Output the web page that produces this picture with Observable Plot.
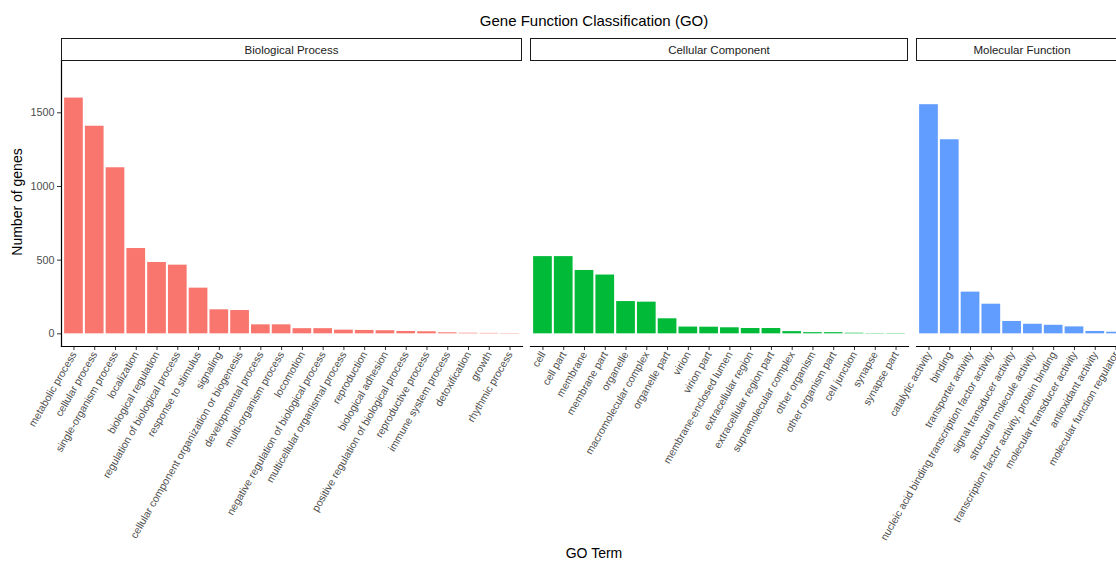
<!DOCTYPE html>
<html>
<head>
<meta charset="utf-8">
<script src="https://cdn.jsdelivr.net/npm/d3@7"></script>
<script src="https://cdn.jsdelivr.net/npm/@observablehq/plot@0.6"></script>
<style>
  html, body { margin: 0; padding: 0; background: #fff; }
  #fig { position: relative; width: 1116px; height: 562px; overflow: hidden; font-family: "Liberation Sans", Arial, sans-serif; }
  .abs { position: absolute; white-space: nowrap; }
  .strip { position: absolute; box-sizing: border-box; border: 1.3px solid #1a1a1a; height: 23px; top: 38px;
           display: flex; align-items: center; justify-content: center; font-size: 11.5px; color: #1a1a1a; background: #fff; }
  #fig svg { position: absolute; left: 0; top: 60px; background: transparent; overflow: visible; max-width: none; }
</style>
</head>
<body>
<div id="fig"></div>
<script>
// ---- data ----
const bpTerms = ["metabolic process","cellular process","single-organism process","localization","biological regulation",
  "regulation of biological process","response to stimulus","signaling","cellular component organization or biogenesis",
  "developmental process","multi-organism process","locomotion","negative regulation of biological process",
  "multicellular organismal process","reproduction","biological adhesion","positive regulation of biological process",
  "reproductive process","immune system process","detoxification","growth","rhythmic process"];
const bpCounts = [1600,1409,1127,579,484,466,310,163,158,61,61,35,35,25,23,21,16,14,7,4,3,2];

const ccTerms = ["cell","cell part","membrane","membrane part","organelle","macromolecular complex","organelle part",
  "virion","virion part","membrane-enclosed lumen","extracellular region","extracellular region part",
  "supramolecular complex","other organism","other organism part","cell junction","synapse","synapse part"];
const ccCounts = [524,524,430,399,219,215,102,46,45,41,36,36,15,8,8,4,2,2];

const mfTerms = ["catalytic activity","binding","transporter activity","nucleic acid binding transcription factor activity",
  "signal transducer activity","structural molecule activity","transcription factor activity, protein binding",
  "molecular transducer activity","antioxidant activity","molecular function regulator"];
const mfCounts = [1555,1317,283,201,84,65,58,47,16,11];

const facetNames = ["Biological Process","Cellular Component","Molecular Function"];
const facetColors = ["#F8766D","#00BA38","#619CFF"];
const yTicks = [0,500,1000,1500];
const yDomain = [-86, 1855];

// ---- layout ----
const font = '"Liberation Sans", Arial, sans-serif';
const panels = [
  {terms: bpTerms, counts: bpCounts, left: 61, right: 522, showY: true},
  {terms: ccTerms, counts: ccCounts, left: 530, right: 908, showY: false},
  {terms: mfTerms, counts: mfCounts, left: 916, right: 1128, showY: false}
];

const fig = document.getElementById("fig");

panels.forEach((p, k) => {
  const data = p.terms.map((t, i) => ({term: t, count: p.counts[i]}));
  const chart = Plot.plot({
    width: p.right, height: 502,
    marginLeft: p.left, marginRight: 0, marginTop: 0, marginBottom: 216,
    style: {fontFamily: font, fontSize: "10.5px", background: "transparent", overflow: "visible"},
    x: {domain: p.terms, paddingInner: 0.1, paddingOuter: 0.15, round: false, axis: null},
    y: {domain: yDomain, axis: null},
    marks: [
      Plot.barY(data, {x: "term", y: "count", fill: facetColors[k]}),
      Plot.axisX({tickRotate: -60, tickSize: 4, tickPadding: 2, color: "#4D4D4D", stroke: "#333", label: null, fontSize: "10.5px"}),
      p.showY ? Plot.axisY({ticks: yTicks, tickFormat: d3.format("d"), tickSize: 4, tickPadding: 3, color: "#4D4D4D", stroke: "#333", label: null, fontSize: "10.8px"}) : null,
      Plot.frame({anchor: "bottom", stroke: "#000", strokeWidth: 1.2}),
      p.showY ? Plot.frame({anchor: "left", stroke: "#000", strokeWidth: 1.2}) : null
    ]
  });
  fig.appendChild(chart);

  const s = document.createElement("div");
  s.className = "strip";
  s.style.left = p.left + "px";
  s.style.width = (p.right - p.left) + "px";
  s.textContent = facetNames[k];
  fig.appendChild(s);
});

const title = document.createElement("div");
title.className = "abs";
title.style.cssText += "left:594px;top:13px;transform:translateX(-50%);font-size:15px;line-height:15px;color:#000;";
title.textContent = "Gene Function Classification (GO)";
fig.appendChild(title);

const ylab = document.createElement("div");
ylab.className = "abs";
ylab.style.cssText += "left:17px;top:202px;transform:translate(-50%,-50%) rotate(-90deg);font-size:14px;line-height:14px;color:#000;";
ylab.textContent = "Number of genes";
fig.appendChild(ylab);

const xlab = document.createElement("div");
xlab.className = "abs";
xlab.style.cssText += "left:594px;top:546px;transform:translateX(-50%);font-size:14px;line-height:14px;color:#000;";
xlab.textContent = "GO Term";
fig.appendChild(xlab);
</script>
</body>
</html>
